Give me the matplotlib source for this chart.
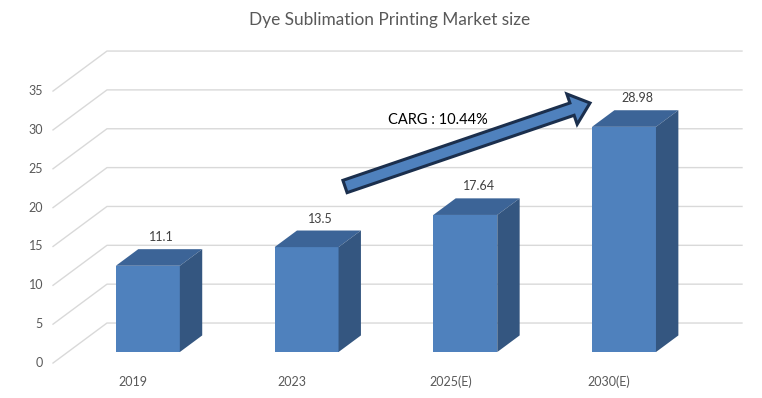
import numpy as np
import matplotlib
matplotlib.use("Agg")
import matplotlib.pyplot as plt
from matplotlib.patches import Polygon, FancyArrow

# ----------------- data -----------------------------------------------------
years = ["2019", "2023", "2025(E)", "2030(E)"]
market_size = [11.1, 13.5, 17.64, 28.98]
value_labels = ["11.1", "13.5", "17.64", "28.98"]
y_ticks = [0, 5, 10, 15, 20, 25, 30, 35]

# ----------------- style ----------------------------------------------------
FRONT = "#4f81bd"
TOP = "#3c6497"
SIDE = "#345680"
GRID = "#d9d9d9"
TXT = "#595959"
plt.rcParams["font.family"] = ["Lato", "DejaVu Sans"]

# depth vector of the 3d box (category units, value units)
DEPTH = np.array([0.340, 5.15])
BAR_W = 0.403
Z0, Z1 = 0.275, 0.69
X_LEFT, X_RIGHT = -0.504, 3.837

fig = plt.figure(figsize=(7.62, 3.98), dpi=100)
ax = fig.add_axes([0, 0, 1, 1])
ax.set_xlim(-0.838, 3.963)
ax.set_ylim(-4.5, 46.72)
ax.axis("off")


def shift(x, y, z):
    return x + DEPTH[0] * z, y + DEPTH[1] * z


# walls: gridlines with diagonal on the side wall
for v in y_ticks:
    bx, by = shift(X_LEFT, v, 1.0)
    ax.plot([X_LEFT, bx, X_RIGHT], [v, by, by], color=GRID, lw=1.0, zorder=1)
    ax.text(X_LEFT - 0.063, v, str(v), ha="right", va="center",
            fontsize=9, color=TXT)

# bars
for i, (cat, val, lab) in enumerate(zip(years, market_size, value_labels)):
    xl, yb = shift(i - BAR_W / 2, 0, Z0)
    xr = xl + BAR_W
    yt = yb + val
    dx, dy = DEPTH * (Z1 - Z0)
    front = Polygon([(xl, yb), (xr, yb), (xr, yt), (xl, yt)], closed=True,
                    facecolor=FRONT, edgecolor="none", zorder=3)
    top = Polygon([(xl, yt), (xr, yt), (xr + dx, yt + dy), (xl + dx, yt + dy)],
                  closed=True, facecolor=TOP, edgecolor="none", zorder=3)
    side = Polygon([(xr, yb), (xr + dx, yb + dy), (xr + dx, yt + dy), (xr, yt)],
                   closed=True, facecolor=SIDE, edgecolor="none", zorder=3)
    for p in (front, top, side):
        ax.add_patch(p)
    ax.text(i + 0.18, val + 5.1, lab, ha="center", va="center",
            fontsize=9, color="#404040", zorder=4)
    ax.text(i, -2.45, cat, ha="center", va="center", fontsize=9, color=TXT)

# overlay in pixel units for the annotation arrow
ann = fig.add_axes([0, 0, 1, 1])
ann.set_xlim(0, 762)
ann.set_ylim(398, 0)
ann.axis("off")
ann.patch.set_alpha(0)
arrow = FancyArrow(345, 186.5, 245, -83.5, width=13, head_width=32,
                   head_length=19, length_includes_head=True,
                   facecolor=FRONT, edgecolor="#1b2f4d", lw=2.2, zorder=5)
ann.add_patch(arrow)
ann.text(438, 120, "CARG : 10.44%", ha="center", va="center",
         fontsize=10.5, color="black")

fig.text(390 / 762, 1 - 20 / 398, "Dye Sublimation Printing Market size",
         ha="center", va="center", fontsize=12.4, color=TXT)

fig.savefig("out.png", dpi=100)
